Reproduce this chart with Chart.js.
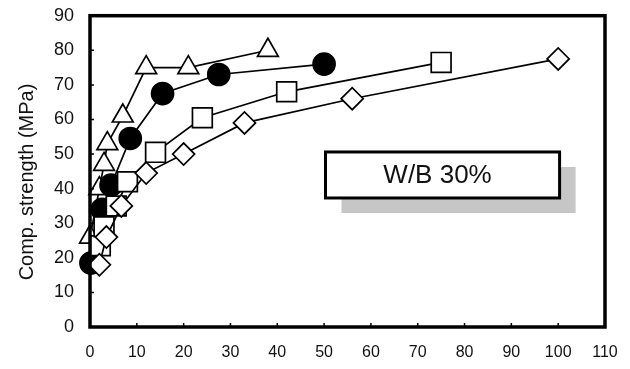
<!DOCTYPE html>
<html>
<head>
<meta charset="utf-8">
<script src="https://cdn.jsdelivr.net/npm/chart.js@4.4.1/dist/chart.umd.min.js"></script>
<style>
    html, body { margin: 0; padding: 0; background: #fff; }
    #wrap { width: 630px; height: 369px; }
</style>
</head>
<body>
<div id="wrap"><canvas id="strengthChart" width="630" height="369"></canvas></div>
<script>
// values
const triangleX = [0, 2, 3, 3.7, 7, 12, 21, 38];
const triangleY = [26, 40, 47, 53, 61, 75, 75, 80];
const circleX = [0.2, 2.6, 4.5, 8.6, 15.5, 27.5, 50];
const circleY = [18.5, 34, 41, 54.5, 67.5, 73, 76];
const squareX = [2.2, 3, 5.6, 8, 14, 24, 42, 75];
const squareY = [23.5, 29, 35, 42, 50.5, 60.5, 68, 76.5];
const diamondX = [2, 3.5, 6.7, 12, 20, 33, 56, 100];
const diamondY = [18, 26, 35, 44.5, 50, 59, 66, 77.5];

const xTicks = [0, 10, 20, 30, 40, 50, 60, 70, 80, 90, 100, 110];
const yTicks = [0, 10, 20, 30, 40, 50, 60, 70, 80, 90];
const yTitle = "Comp. strength (MPa)";
const boxLabel = "W/B 30%";
// label box corners in data units
const boxX = [50.3, 100.3];
const boxY = [37.3, 50.6];

const FONT = "'Liberation Sans', Arial, sans-serif";

function toPoints(xs, ys) {
    return xs.map((x, i) => ({ x: x, y: ys[i] }));
}

function series(xs, ys, style, radius, fill) {
    return {
        data: toPoints(xs, ys),
        borderColor: "#000",
        borderWidth: 1.7,
        pointStyle: style,
        pointRadius: radius,
        pointBackgroundColor: fill,
        pointBorderColor: "#000",
        pointBorderWidth: 1.7,
        tension: 0,
        clip: false
    };
}

const framePlugin = {
    id: "frame",
    afterDraw(chart) {
        const ctx = chart.ctx;
        const a = chart.chartArea;
        const xs = chart.scales.x;
        const ys = chart.scales.y;
        ctx.save();

        // label box with its grey shadow
        const bx1 = xs.getPixelForValue(boxX[0]);
        const bx2 = xs.getPixelForValue(boxX[1]);
        const by1 = ys.getPixelForValue(boxY[1]);
        const by2 = ys.getPixelForValue(boxY[0]);
        ctx.fillStyle = "#c6c6c6";
        ctx.fillRect(bx1 + 16, by1 + 15, bx2 - bx1, by2 - by1);
        ctx.fillStyle = "#fff";
        ctx.fillRect(bx1, by1, bx2 - bx1, by2 - by1);
        ctx.lineWidth = 3;
        ctx.strokeStyle = "#000";
        ctx.strokeRect(bx1, by1, bx2 - bx1, by2 - by1);
        ctx.fillStyle = "#111";
        ctx.font = "26px " + FONT;
        ctx.textAlign = "center";
        ctx.textBaseline = "middle";
        ctx.fillText(boxLabel, (bx1 + bx2) / 2 - 5, (by1 + by2) / 2 + 1);

        // small inner tick marks
        ctx.lineWidth = 1.5;
        ctx.beginPath();
        xTicks.forEach(v => {
            const px = xs.getPixelForValue(v);
            ctx.moveTo(px, a.bottom);
            ctx.lineTo(px, a.bottom - 4);
        });
        yTicks.forEach(v => {
            const py = ys.getPixelForValue(v);
            ctx.moveTo(a.left, py);
            ctx.lineTo(a.left + 4, py);
        });
        ctx.stroke();

        // heavy plot frame
        ctx.lineWidth = 3.5;
        ctx.strokeRect(a.left, a.top, a.right - a.left, a.bottom - a.top);

        // y axis title
        ctx.save();
        ctx.translate(27, 182);
        ctx.rotate(-Math.PI / 2);
        ctx.font = "20px " + FONT;
        ctx.fillStyle = "#111";
        ctx.textAlign = "center";
        ctx.textBaseline = "middle";
        ctx.fillText(yTitle, 0, 0);
        ctx.restore();

        ctx.restore();
    }
};

document.addEventListener("DOMContentLoaded", () => {
    const ctx = document.getElementById("strengthChart").getContext("2d");
    window.currentChart = new Chart(ctx, {
        type: "line",
        data: {
            // first dataset is painted on top
            datasets: [
                series(diamondX, diamondY, "rectRot", 11, "#fff"),
                series(squareX, squareY, "rect", 14, "#fff"),
                series(circleX, circleY, "circle", 11, "#000"),
                series(triangleX, triangleY, "triangle", 12, "#fff")
            ]
        },
        options: {
            responsive: false,
            animation: false,
            layout: { padding: { top: 15, right: 25, left: 0, bottom: 0 } },
            plugins: {
                legend: { display: false },
                tooltip: { enabled: false }
            },
            scales: {
                x: {
                    type: "linear",
                    min: 0,
                    max: 110,
                    border: { display: false },
                    grid: { display: false, drawTicks: false },
                    afterBuildTicks: (scale) => { scale.ticks = xTicks.map(v => ({ value: v })); },
                    afterFit: (scale) => {
                        scale.height = 42;
                        scale.paddingLeft = 0;
                        scale.paddingRight = 0;
                    },
                    ticks: {
                        padding: 16,
                        color: "#111",
                        maxRotation: 0,
                        font: { family: FONT, size: 16 }
                    }
                },
                y: {
                    type: "linear",
                    min: 0,
                    max: 90,
                    border: { display: false },
                    grid: { display: false, drawTicks: false },
                    afterBuildTicks: (scale) => { scale.ticks = yTicks.map(v => ({ value: v })); },
                    afterFit: (scale) => {
                        scale.width = 90;
                        scale.paddingTop = 0;
                        scale.paddingBottom = 0;
                    },
                    ticks: {
                        padding: 16,
                        color: "#111",
                        font: { family: FONT, size: 18 }
                    }
                }
            }
        },
        plugins: [framePlugin]
    });
});
</script>
</body>
</html>
